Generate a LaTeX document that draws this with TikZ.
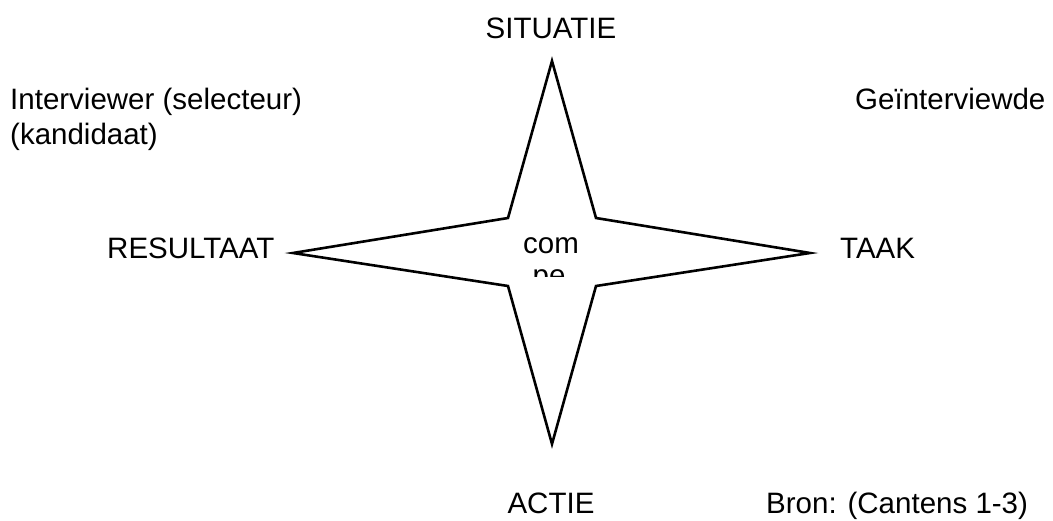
\documentclass[tikz,border=0pt]{standalone}
\usepackage{fontspec}
\setmainfont{Liberation Sans}
\begin{document}
\begin{tikzpicture}[x=1pt,y=-1pt,
  lbl/.style={inner sep=0pt, font=\fontsize{29.5}{36}\selectfont},
  starline/.style={draw=black, line width=2.6pt, line join=miter, fill=white}]
\useasboundingbox[fill=white] (0,0) rectangle (1053,521);
% star corners
\coordinate (N)  at (552,61);
\coordinate (NE) at (596,218);
\coordinate (E)  at (810,253);
\coordinate (SE) at (596,286);
\coordinate (S)  at (552,444);
\coordinate (SW) at (508,286);
\coordinate (W)  at (293,253);
\coordinate (NW) at (508,218);
\draw[starline] (N) -- (NE) -- (E) -- (SE) -- (S) -- (SW) -- (W) -- (NW) -- cycle;
% clipped centre text
\begin{scope}
  \clip (508,222) rectangle (596,277);
  \node[lbl, anchor=base] (c1) at (551,254) {com};
  \node[lbl, anchor=base] (c2) at (549,286) {pe};
\end{scope}
% labels
\node[lbl, anchor=base] (sit) at (551,39) {SITUATIE};
\node[lbl, anchor=base west] (int) at (10,110) {Interviewer (selecteur)};
\node[lbl, anchor=base west] (kan) at (10,145) {(kandidaat)};
\node[lbl, anchor=base west] (gei) at (855,110) {Geïnterviewde};
\node[lbl, anchor=base west] (res) at (107,259) {RESULTAAT};
\node[lbl, anchor=base west] (taak) at (840,259) {TAAK};
\node[lbl, anchor=base] (actie) at (551,513) {ACTIE};
\node[lbl, anchor=base west] (bron) at (766,513) {Bron: (Cantens 1-3)};
\end{tikzpicture}
\end{document}
